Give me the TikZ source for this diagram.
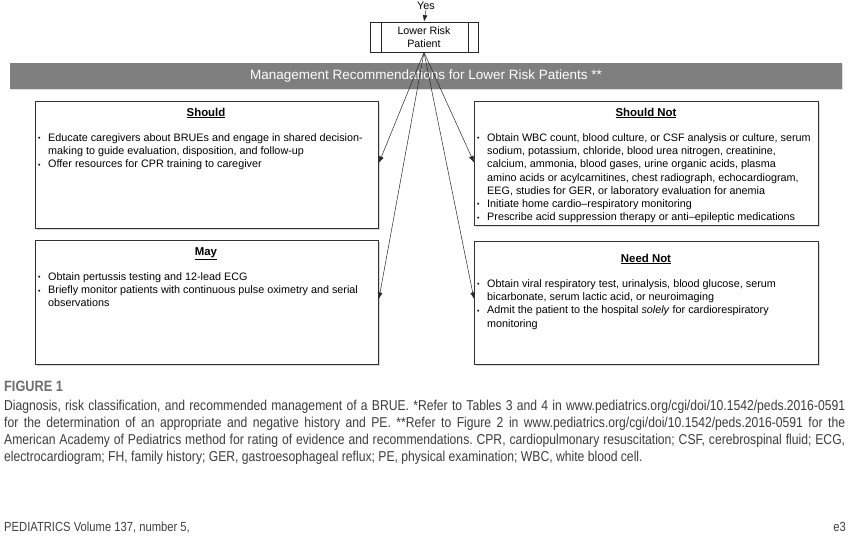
\documentclass[tikz,border=0pt]{standalone}
\usepackage{fontspec}
\setmainfont{Liberation Sans}
\newfontfamily\capfont[FakeStretch=0.85]{Liberation Sans}
\usetikzlibrary{arrows.meta,shadows}
\definecolor{bargray}{HTML}{7F7F7F}
\definecolor{capgray}{HTML}{6E6E6E}
\definecolor{captext}{HTML}{3C3C3C}
\newcommand\bl{\makebox[10pt][l]{\raisebox{0.6pt}{\scriptsize •}}}
\newcommand\ind{\hspace*{10pt}}
\frenchspacing
\begin{document}
\begin{tikzpicture}[x=1pt,y=-1pt,
  box/.style={draw=black!80, line width=0.9pt, fill=white, inner sep=0,
    drop shadow={shadow xshift=1.2pt, shadow yshift=-1.2pt, opacity=0.3}},
  ttl/.style={font=\fontsize{11.4}{13}\selectfont\bfseries, inner sep=0, anchor=base},
  body/.style={font=\fontsize{10.8}{13.2}\selectfont, align=left, inner sep=0, anchor=north west},
  arr/.style={-{Latex[length=6.5pt,width=5pt]}, line width=0.5pt, black!85},
  captxt/.style={font=\capfont\fontsize{14.3}{16}\selectfont\frenchspacing, color=captext, inner sep=0, anchor=base west}
]
\useasboundingbox (0,0) rectangle (850,543);

% top
\node[font=\fontsize{10.8}{12}\selectfont, inner sep=0] (yes) at (426,6) {Yes};
\node[draw=black!85, line width=0.8pt, fill=white, minimum width=108pt, minimum height=30pt,
      inner sep=0, align=center, font=\fontsize{10.7}{13}\selectfont] (lrp) at (424,37) {Lower Risk\\Patient};
\draw[line width=0.8pt, black!85] ([xshift=11.5pt]lrp.north west) -- ([xshift=11.5pt]lrp.south west);
\draw[line width=0.8pt, black!85] ([xshift=-10.5pt]lrp.north east) -- ([xshift=-10.5pt]lrp.south east);
\draw[arr] (yes.south) -- (lrp.north);

% bar
\node[fill=bargray, minimum width=832pt, minimum height=26pt, inner sep=0,
      text=white, font=\fontsize{13.5}{15}\selectfont,
      drop shadow={shadow xshift=1pt, shadow yshift=-1pt, opacity=0.25}] (bar) at (426,76)
      {Management Recommendations for Lower Risk Patients **};

% boxes
\node[box, minimum width=343pt, minimum height=127pt, anchor=north west] (should) at (35,101) {};
\node[box, minimum width=344pt, minimum height=124pt, anchor=north west] (shouldnot) at (474,101) {};
\node[box, minimum width=343pt, minimum height=124pt, anchor=north west] (may) at (35,240) {};
\node[box, minimum width=344pt, minimum height=123pt, anchor=north west] (neednot) at (474,241) {};

% titles
\node[ttl] (tshould) at (206,116) {\underline{Should}};
\node[ttl] (tshouldnot) at (646,116) {\underline{Should Not}};
\node[ttl] (tmay) at (206,255) {\underline{May}};
\node[ttl] (tneednot) at (646,262) {\underline{Need Not}};

% bodies
\node[body] (bshould) at (38,133.5) {%
\bl Educate caregivers about BRUEs and engage in shared decision-\\
\ind making to guide evaluation, disposition, and follow-up\\
\bl Offer resources for CPR training to caregiver};

\node[body] (bshouldnot) at (477,133.5) {%
\bl Obtain WBC count, blood culture, or CSF analysis or culture, serum\\
\ind sodium, potassium, chloride, blood urea nitrogen, creatinine,\\
\ind calcium, ammonia, blood gases, urine organic acids, plasma\\
\ind amino acids or acylcarnitines, chest radiograph, echocardiogram,\\
\ind EEG, studies for GER, or laboratory evaluation for anemia\\
\bl Initiate home cardio–respiratory monitoring\\
\bl Prescribe acid suppression therapy or anti–epileptic medications};

\node[body] (bmay) at (38,272.5) {%
\bl Obtain pertussis testing and 12-lead ECG\\
\bl Briefly monitor patients with continuous pulse oximetry and serial\\
\ind observations};

\node[body] (bneednot) at (477,279.5) {%
\bl Obtain viral respiratory test, urinalysis, blood glucose, serum\\
\ind bicarbonate, serum lactic acid, or neuroimaging\\
\bl Admit the patient to the hospital \textit{solely} for cardiorespiratory\\
\ind monitoring};

% connectors
\draw[arr] (lrp.south) -- ([yshift=2pt]should.east);
\draw[arr] (lrp.south) -- ([yshift=1pt]shouldnot.west);
\draw[arr] (lrp.south) -- ([yshift=3.5pt]may.east);
\draw[arr] (lrp.south) -- ([yshift=4pt]neednot.west);

% caption
\node[captxt, color=capgray, font=\capfont\fontsize{15}{16}\selectfont\bfseries] (fig) at (4,391) {FIGURE 1};
\node[captxt] (c1) at (4,410.5) {\makebox[841pt][s]{Diagnosis, risk classification, and recommended management of a BRUE. *Refer to Tables 3 and 4 in www.pediatrics.org/cgi/doi/10.1542/peds.2016-0591}};
\node[captxt] (c2) at (4,427.5) {\makebox[841pt][s]{for the determination of an appropriate and negative history and PE. **Refer to Figure 2 in www.pediatrics.org/cgi/doi/10.1542/peds.2016-0591 for the}};
\node[captxt] (c3) at (4,444.5) {\makebox[841pt][s]{American Academy of Pediatrics method for rating of evidence and recommendations. CPR, cardiopulmonary resuscitation; CSF, cerebrospinal fluid; ECG,}};
\node[captxt] (c4) at (4,461) {electrocardiogram; FH, family history; GER, gastroesophageal reflux; PE, physical examination; WBC, white blood cell.};

% footer
\node[captxt, font=\capfont\fontsize{13.2}{14}\selectfont, color=black!75] (foot) at (4,531) {PEDIATRICS Volume 137, number 5,};
\node[captxt, anchor=base east, font=\capfont\fontsize{13.2}{14}\selectfont, color=black!75] (page) at (846,531) {e3};
\end{tikzpicture}
\end{document}
